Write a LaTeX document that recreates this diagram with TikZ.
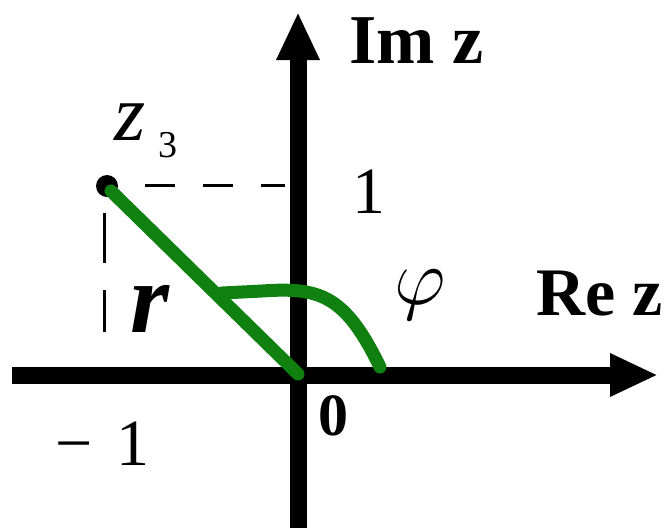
\RequirePackage{fix-cm}
\documentclass[tikz,border=0pt]{standalone}
\usepackage{fontspec}
\setmainfont{Liberation Serif}
\usetikzlibrary{arrows.meta}
\definecolor{dgreen}{RGB}{16,128,16}
\tikzset{
  axis/.style={line width=17pt,-{Triangle[length=48pt,width=40pt]}},
  gline/.style={line width=13pt,dgreen,line cap=round},
  lbl/.style={inner sep=0pt,anchor=base west},
  dashh/.style={line width=3pt,dash pattern=on 30pt off 28pt},
  dashv/.style={line width=3pt,dash pattern=on 50pt off 27pt}
}
\begin{document}
\begin{tikzpicture}[x=1pt,y=-1pt]
\useasboundingbox (0,0) rectangle (668,528);
% coordinates
\coordinate (xl) at (12,375);
\coordinate (xr) at (658,375);
\coordinate (yb) at (298,528);
\coordinate (yt) at (298,12);
\coordinate (O) at (298,374);
\coordinate (Z) at (107,186);
\coordinate (Zg) at (111,191);
\coordinate (hd0) at (145,185);
\coordinate (hd1) at (285,185);
\coordinate (vd0) at (104,213);
\coordinate (vd1) at (104,332);
\coordinate (a0) at (222,293);
\coordinate (a1) at (262,291);
\coordinate (a2) at (380,367);
% axes
\draw[axis] (xl) -- (xr);
\draw[axis] (yb) -- (yt);
% dashed projections
\draw[dashh] (hd0) -- (hd1);
\draw[dashv] (vd0) -- (vd1);
% point
\fill (Z) circle (11pt);
% green radius and angle arc
\draw[gline] (Zg) -- (O);
\draw[gline] (a0) -- (a1) .. controls (320,287) and (345,295) .. (a2);
% labels
\node[lbl] (im) at (349,63) {\fontsize{70}{70}\selectfont\bfseries Im z};
\node[lbl] (re) at (536,315) {\fontsize{68}{68}\selectfont\bfseries Re z};
\node[lbl] (z3) at (114,140) {\fontsize{80}{80}\selectfont\itshape z};
\node[lbl] (s3) at (158,157) {\fontsize{38}{38}\selectfont 3};
\node[lbl] (one) at (352,213) {\fontsize{66}{66}\selectfont 1};
\node[lbl] (phi) at (394,304) {\fontsize{80}{80}\selectfont$\varphi$};
\node[lbl] (r) at (130,332) {\fontsize{100}{100}\selectfont\bfseries\itshape r};
\node[lbl] (zero) at (318,435) {\fontsize{60}{60}\selectfont\bfseries 0};
\node[lbl] (m1) at (55,465) {\fontsize{66}{66}\selectfont −\hspace{0.36em}1};
\end{tikzpicture}
\end{document}
